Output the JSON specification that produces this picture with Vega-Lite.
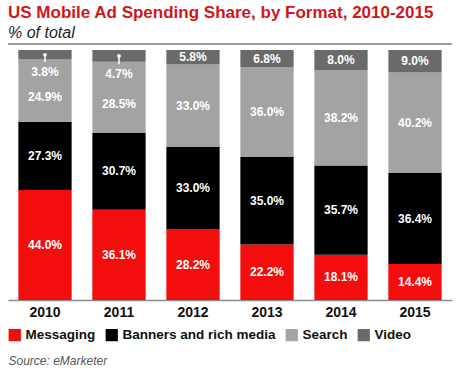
{
  "$schema": "https://vega.github.io/schema/vega-lite/v6.json",
  "width": 444,
  "height": 256,
  "autosize": "none",
  "padding": {"left": 8, "top": 44, "right": 15, "bottom": 73},
  "background": "white",
  "title": {
    "text": "US Mobile Ad Spending Share, by Format, 2010-2015",
    "subtitle": "% of total",
    "anchor": "start",
    "frame": "group",
    "color": "#d0161b",
    "font": "Liberation Sans",
    "fontSize": 17,
    "fontWeight": "bold",
    "subtitleFont": "Liberation Sans",
    "subtitleFontSize": 16,
    "subtitleFontStyle": "italic",
    "subtitleColor": "#222222",
    "subtitlePadding": 3,
    "offset": 1
  },
  "config": {"view": {"stroke": null}},
  "data": {
    "values": [
      {"year": "2010", "format": "Messaging", "value": 44.0},
      {"year": "2010", "format": "Banners and rich media", "value": 27.3},
      {"year": "2010", "format": "Search", "value": 24.9},
      {"year": "2010", "format": "Video", "value": 3.8},
      {"year": "2011", "format": "Messaging", "value": 36.1},
      {"year": "2011", "format": "Banners and rich media", "value": 30.7},
      {"year": "2011", "format": "Search", "value": 28.5},
      {"year": "2011", "format": "Video", "value": 4.7},
      {"year": "2012", "format": "Messaging", "value": 28.2},
      {"year": "2012", "format": "Banners and rich media", "value": 33.0},
      {"year": "2012", "format": "Search", "value": 33.0},
      {"year": "2012", "format": "Video", "value": 5.8},
      {"year": "2013", "format": "Messaging", "value": 22.2},
      {"year": "2013", "format": "Banners and rich media", "value": 35.0},
      {"year": "2013", "format": "Search", "value": 36.0},
      {"year": "2013", "format": "Video", "value": 6.8},
      {"year": "2014", "format": "Messaging", "value": 18.1},
      {"year": "2014", "format": "Banners and rich media", "value": 35.7},
      {"year": "2014", "format": "Search", "value": 38.2},
      {"year": "2014", "format": "Video", "value": 8.0},
      {"year": "2015", "format": "Messaging", "value": 14.4},
      {"year": "2015", "format": "Banners and rich media", "value": 36.4},
      {"year": "2015", "format": "Search", "value": 40.2},
      {"year": "2015", "format": "Video", "value": 9.0}
    ]
  },
  "layer": [
    {
      "data": {"values": [{}]},
      "mark": {"type": "rule", "color": "#808080", "strokeWidth": 1.5},
      "encoding": {"y": {"datum": 102.4, "type": "quantitative", "scale": {"domain": [0, 102.4]}}}
    },
    {
      "transform": [
        {"calculate": "indexof(['Messaging','Banners and rich media','Search','Video'], datum.format)", "as": "order"},
        {"stack": "value", "groupby": ["year"], "sort": [{"field": "order"}], "as": ["y0", "y1"]},
        {"calculate": "datum.format == 'Video' && datum.value < 5 ? datum.y0 - 4.8 : (datum.format == 'Search' && datum.y1 > 95 ? (datum.y0 + datum.y1) / 2 - 2.6 : (datum.y0 + datum.y1) / 2)", "as": "mid"},
        {"calculate": "format(datum.value, '.1f') + '%'", "as": "label"},
        {"calculate": "(datum.y0 + datum.y1) / 2", "as": "pinTop"},
        {"calculate": "datum.y0 - 1.0", "as": "pinBottom"}
      ],
      "encoding": {
        "x": {
          "field": "year",
          "type": "ordinal",
          "scale": {"paddingInner": 0.28, "paddingOuter": 0.14},
          "axis": {
            "labelAngle": 0,
            "ticks": false,
            "domainColor": "#8a8a8a",
            "domainWidth": 1.5,
            "labelFont": "Liberation Sans",
            "labelFontSize": 14,
            "labelFontWeight": "bold",
            "labelColor": "#111111",
            "labelPadding": 5,
            "title": "Source: eMarketer",
            "titleFont": "Liberation Sans",
            "titleFontSize": 12,
            "titleFontStyle": "italic",
            "titleFontWeight": "normal",
            "titleColor": "#555555",
            "titleAnchor": "start",
            "titleAlign": "left",
            "titlePadding": 36
          }
        }
      },
      "layer": [
        {
          "mark": {"type": "bar"},
          "encoding": {
            "y": {"field": "y0", "type": "quantitative", "scale": {"domain": [0, 102.4]}, "axis": null},
            "y2": {"field": "y1"},
            "color": {
              "field": "format",
              "type": "nominal",
              "scale": {
                "domain": ["Messaging", "Banners and rich media", "Search", "Video"],
                "range": ["#f40d0d", "#000000", "#a3a3a3", "#6a6a6a"]
              },
              "legend": {
                "orient": "none",
                "legendX": 0,
                "legendY": 284,
                "direction": "horizontal",
                "title": null,
                "symbolType": "square",
                "symbolSize": 150,
                "symbolStrokeWidth": 0,
                "labelFont": "Liberation Sans",
                "labelFontSize": 13.5,
                "labelFontWeight": "bold",
                "labelColor": "#111111",
                "labelOffset": 4,
                "columnPadding": 9
              }
            }
          }
        },
        {
          "transform": [{"filter": "datum.format == 'Video' && datum.value < 5"}],
          "mark": {"type": "rule", "color": "white", "strokeWidth": 1.5},
          "encoding": {
            "y": {"field": "pinTop", "type": "quantitative", "scale": {"domain": [0, 102.4]}},
            "y2": {"field": "pinBottom"}
          }
        },
        {
          "transform": [{"filter": "datum.format == 'Video' && datum.value < 5"}],
          "mark": {"type": "point", "filled": true, "color": "white", "size": 14, "opacity": 1},
          "encoding": {
            "y": {"field": "pinTop", "type": "quantitative", "scale": {"domain": [0, 102.4]}}
          }
        },
        {
          "mark": {"type": "text", "color": "white", "font": "Liberation Sans", "fontSize": 12, "fontWeight": "bold", "baseline": "middle"},
          "encoding": {
            "y": {"field": "mid", "type": "quantitative", "scale": {"domain": [0, 102.4]}},
            "text": {"field": "label"}
          }
        }
      ]
    }
  ]
}
